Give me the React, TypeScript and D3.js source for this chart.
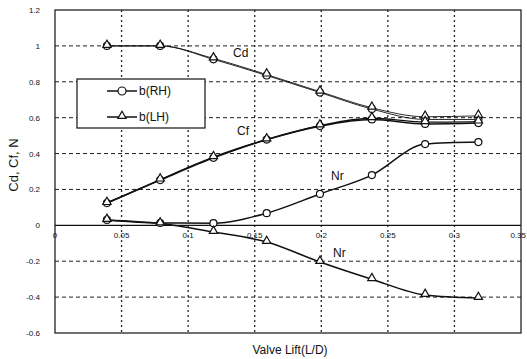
import React from "react";
import * as d3 from "d3";

const lift = [0.039, 0.079, 0.119, 0.159, 0.199, 0.238, 0.278, 0.318];
const cdRH = [1.0, 1.0, 0.925, 0.835, 0.74, 0.648, 0.59, 0.59];
const cdLH = [1.0, 1.0, 0.93, 0.84, 0.745, 0.655, 0.605, 0.61];
const cfRH = [0.124, 0.252, 0.376, 0.478, 0.553, 0.59, 0.565, 0.57];
const cfLH = [0.124, 0.255, 0.38, 0.478, 0.556, 0.597, 0.575, 0.578];
const nRH = [0.03, 0.013, 0.012, 0.068, 0.175, 0.28, 0.453, 0.464];
const nLH = [0.03, 0.01, -0.037, -0.093, -0.204, -0.3, -0.388, -0.405];
const xTicks = [0, 0.05, 0.1, 0.15, 0.2, 0.25, 0.3, 0.35];
const xTickLabels = ["0", "0.05", "0.1", "0.15", "0.2", "0.25", "0.3", "0.35"];
const yTicks = [1.2, 1, 0.8, 0.6, 0.4, 0.2, 0, -0.2, -0.4, -0.6];
const yTickLabels = ["1.2", "1", "0.8", "0.6", "0.4", "0.2", "0", "-0.2", "-0.4", "-0.6"];
const legendLabels = ["b(RH)", "b(LH)"];

const W = 527;
const H = 359;
const left = 55;
const right = 521;
const top = 10;
const bottom = 333;

export default function App() {
  const x = d3.scaleLinear().domain([0, 0.35]).range([left, right]);
  const y = d3.scaleLinear().domain([-0.6, 1.2]).range([bottom, top]);
  const line = d3
    .line<[number, number]>()
    .x((d) => x(d[0]))
    .y((d) => y(d[1]))
    .curve(d3.curveMonotoneX);
  const pts = (vals: number[]) => lift.map((l, i) => [l, vals[i]] as [number, number]);
  const tri = d3.symbol().type(d3.symbolTriangle).size(30)();

  const circles = (vals: number[]) =>
    pts(vals).map((p, i) => (
      <circle key={i} cx={x(p[0])} cy={y(p[1])} r={3.5} fill="white" stroke="#111" strokeWidth={1.2} />
    ));
  const triangles = (vals: number[]) =>
    pts(vals).map((p, i) => (
      <path key={i} d={tri || ""} transform={`translate(${x(p[0])},${y(p[1]) - 1})`} fill="white" stroke="#111" strokeWidth={1.2} />
    ));

  const font = "Arial, 'Liberation Sans', sans-serif";

  return (
    <svg width={W} height={H} style={{ position: "absolute", left: 0, top: 0, background: "white" }}>
      <rect x={0} y={0} width={W} height={H} fill="white" />
      {/* horizontal dashed grid */}
      {yTicks
        .filter((t) => t !== 0 && t !== 1.2 && t !== -0.6)
        .map((t) => (
          <line key={t} x1={left} x2={right} y1={y(t)} y2={y(t)} stroke="#222" strokeWidth={1} strokeDasharray="4,3" />
        ))}
      {/* vertical dotted grid */}
      {xTicks
        .filter((t) => t !== 0 && t !== 0.35)
        .map((t) => (
          <line key={t} x1={x(t)} x2={x(t)} y1={top} y2={bottom} stroke="#222" strokeWidth={1.3} strokeDasharray="2,3" />
        ))}
      {/* zero line */}
      <line x1={left} x2={right} y1={y(0)} y2={y(0)} stroke="#111" strokeWidth={1.2} />
      {/* frame */}
      <rect x={left} y={top} width={right - left} height={bottom - top} fill="none" stroke="#111" strokeWidth={1.2} />

      {/* y tick labels */}
      {yTicks.map((t, i) => (
        <text key={t} x={left - 15} y={y(t) + 3} fontSize={8} fontFamily={font} textAnchor="end" fill="#111">
          {yTickLabels[i]}
        </text>
      ))}
      {/* x tick labels */}
      {xTicks.map((t, i) => (
        <text
          key={t}
          x={i === xTicks.length - 1 ? W - 1 : x(t)}
          y={y(0) + 13}
          fontSize={8}
          fontFamily={font}
          textAnchor={i === xTicks.length - 1 ? "end" : "middle"}
          fill="#111"
        >
          {xTickLabels[i]}
        </text>
      ))}

      {/* curves */}
      <path d={line(pts(cdRH)) || ""} fill="none" stroke="#111" strokeWidth={0.9} />
      <path d={line(pts(cdLH)) || ""} fill="none" stroke="#111" strokeWidth={0.9} />
      <path d={line(pts(cfRH)) || ""} fill="none" stroke="#111" strokeWidth={1.6} />
      <path d={line(pts(cfLH)) || ""} fill="none" stroke="#111" strokeWidth={1.4} />
      <path d={line(pts(nRH)) || ""} fill="none" stroke="#111" strokeWidth={1.5} />
      <path d={line(pts(nLH)) || ""} fill="none" stroke="#111" strokeWidth={1.5} />

      {circles(cdRH)}
      {triangles(cdLH)}
      {circles(cfRH)}
      {triangles(cfLH)}
      {circles(nRH)}
      {triangles(nLH)}

      {/* curve labels */}
      <text x={233} y={57} fontSize={12} fontFamily={font} fill="#111">Cd</text>
      <text x={237} y={135} fontSize={12} fontFamily={font} fill="#111">Cf</text>
      <text x={331} y={180} fontSize={12} fontFamily={font} fill="#111">Nr</text>
      <text x={333} y={257} fontSize={12} fontFamily={font} fill="#111">Nr</text>

      {/* legend */}
      <rect x={77} y={79} width={128} height={49} fill="white" stroke="#111" strokeWidth={1.2} />
      <line x1={107} x2={137} y1={91} y2={91} stroke="#111" strokeWidth={1.5} />
      <circle cx={122} cy={91} r={4} fill="white" stroke="#111" strokeWidth={1.2} />
      <text x={139} y={95} fontSize={12} fontFamily={font} fill="#111">{legendLabels[0]}</text>
      <line x1={107} x2={137} y1={117} y2={117} stroke="#111" strokeWidth={1.5} />
      <path d={tri || ""} transform="translate(122,116)" fill="white" stroke="#111" strokeWidth={1.2} />
      <text x={139} y={121} fontSize={12} fontFamily={font} fill="#111">{legendLabels[1]}</text>

      {/* axis titles */}
      <text x={290} y={354} fontSize={12} fontFamily={font} textAnchor="middle" fill="#111">Valve Lift(L/D)</text>
      <text transform="translate(18,165) rotate(-90)" fontSize={13} fontFamily={font} textAnchor="middle" fill="#111">Cd, Cf, N</text>
    </svg>
  );
}
